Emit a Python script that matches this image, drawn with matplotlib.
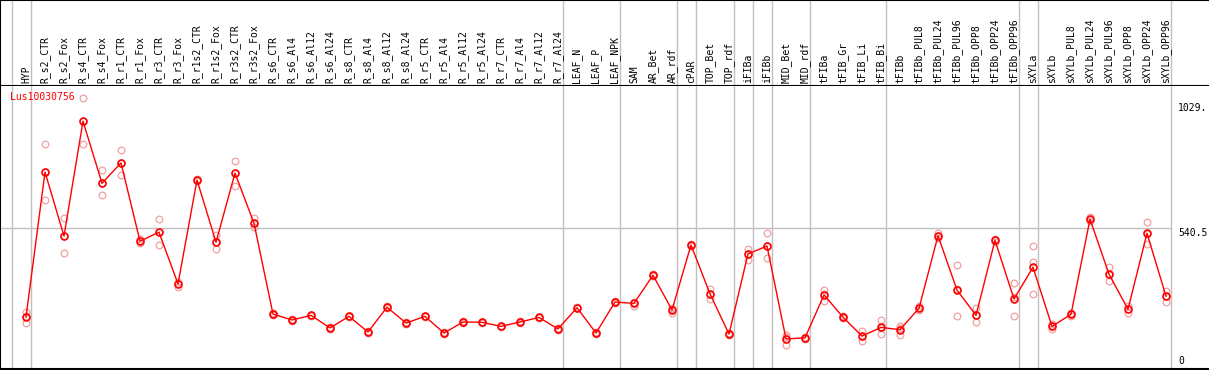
import numpy as np
import matplotlib
matplotlib.use('Agg')
import matplotlib.pyplot as plt

# column labels
labels = ['HYP', 'R_s2_CTR', 'R_s2_Fox', 'R_s4_CTR', 'R_s4_Fox', 'R_r1_CTR', 'R_r1_Fox',
          'R_r3_CTR', 'R_r3_Fox', 'R_r1s2_CTR', 'R_r1s2_Fox', 'R_r3s2_CTR', 'R_r3s2_Fox',
          'R_s6_CTR', 'R_s6_Al4', 'R_s6_Al12', 'R_s6_Al24', 'R_s8_CTR', 'R_s8_Al4',
          'R_s8_Al12', 'R_s8_Al24', 'R_r5_CTR', 'R_r5_Al4', 'R_r5_Al12', 'R_r5_Al24',
          'R_r7_CTR', 'R_r7_Al4', 'R_r7_Al12', 'R_r7_Al24', 'LEAF_N', 'LEAF_P', 'LEAF_NPK',
          'SAM', 'AR_Bet', 'AR_rdf', 'cPAR', 'TOP_Bet', 'TOP_rdf', 'iFIBa', 'iFIBb',
          'MID_Bet', 'MID_rdf', 'tFIBa', 'tFIB_Gr', 'tFIB_Li', 'tFIB_Bi', 'tFIBb',
          'tFIBb_PUL8', 'tFIBb_PUL24', 'tFIBb_PUL96', 'tFIBb_OPP8', 'tFIBb_OPP24',
          'tFIBb_OPP96', 'sXYLa', 'sXYLb', 'sXYLb_PUL8', 'sXYLb_PUL24', 'sXYLb_PUL96',
          'sXYLb_OPP8', 'sXYLb_OPP24', 'sXYLb_OPP96']

# mean expression per column
means = [192, 759, 509, 958, 715, 795, 489, 524, 322, 728, 485, 755, 559,
         204, 181, 199, 150, 195, 134, 231, 169, 195, 130, 173, 172, 156, 173, 191, 146,
         229, 130, 251, 246, 356, 220, 474, 283, 126, 439, 470, 107, 111, 279, 192, 118,
         152, 143, 227, 510, 298, 199, 492, 263, 387, 156, 203, 575, 360, 223, 520, 274]

# replicates
rep_a = [212, 869, 580, 1047, 767, 844, 496, 575, 331, 731, 513, 802, 578,
         207, 184, 202, 153, 198, 137, 234, 172, 198, 133, 176, 175, 159, 176, 194, 149,
         232, 133, 254, 253, 359, 227, 477, 301, 129, 460, 520, 122, 114, 298, 195, 137,
         181, 158, 234, 520, 395, 227, 499, 324, 470, 165, 210, 582, 387, 236, 563, 294]
rep_b = [197, 759, 509, 958, 715, 795, 489, 524, 322, 728, 485, 755, 559,
         204, 181, 199, 150, 195, 134, 231, 169, 195, 130, 173, 172, 156, 173, 191, 146,
         229, 130, 251, 246, 356, 222, 474, 283, 126, 440, 470, 115, 111, 281, 192, 120,
         148, 149, 227, 510, 304, 199, 492, 270, 408, 156, 203, 575, 358, 224, 518, 275]
rep_c = [169, 650, 443, 869, 668, 746, 482, 473, 309, 724, 460, 703, 543,
         201, 178, 196, 147, 192, 131, 228, 166, 192, 127, 170, 169, 153, 170, 188, 143,
         226, 127, 248, 236, 353, 210, 471, 262, 123, 415, 422, 84, 108, 256, 189, 98,
         127, 122, 220, 501, 195, 172, 486, 195, 283, 147, 197, 568, 335, 210, 479, 253]

# last column of each group (0 = before first column)
group_ends = [0, 1, 29, 32, 35, 36, 38, 39, 40, 42, 46, 53, 54, 61]

W, H = 1209, 370
fig = plt.figure(figsize=(W / 100, H / 100), dpi=100)
head_h = 85.7
ax_h = fig.add_axes([0, (H - head_h) / H, 1, head_h / H])
ax = fig.add_axes([0, 1 / H, 1, (369 - head_h) / H], sharex=ax_h)

x = np.arange(1, len(labels) + 1)
xlim = (-7 / 19, (W - 7) / 19)
grey = '#c0c0c0'
mono = 'DejaVu Sans Mono'

for a in (ax, ax_h):
    for g in group_ends:
        a.axvline(g + 0.25, color=grey, lw=1, zorder=0)
    a.set_xticks([])
    a.set_yticks([])
    a.spines['right'].set_visible(False)
    for s in ('left', 'top', 'bottom'):
        a.spines[s].set_color('black')
        a.spines[s].set_linewidth(1.5)
ax.spines['top'].set_visible(False)
ax_h.set_ylim(0, 1)
ax.set_xlim(*xlim)
ax.set_ylim(-10.6, 1096.6)

for i, lab in enumerate(labels):
    ax_h.text(x[i], 0.03, lab, rotation=90, ha='center', va='bottom',
              family=mono, fontsize=7, color='black')

ax.axhline(540.5, xmin=0, xmax=1170.7 / W, color=grey, lw=1, zorder=0)

# replicates
for r in (rep_a, rep_b, rep_c):
    ax.plot(x, r, 'o', ms=4.8, mfc='none', mec='#f0a0a0', mew=0.9, zorder=2)

ax.plot(x, means, '-', color='red', lw=1, zorder=3)
ax.plot(x, means, 'o', ms=5, mfc='none', mec='red', mew=1.2, zorder=4)

ax.text(10 / W, 1 - (97 - head_h) / (369 - head_h), 'Lus10030756', transform=ax.transAxes,
        ha='left', va='center', family=mono, fontsize=7, color='red')

xr = xlim[0] + (1178 / W) * (xlim[1] - xlim[0])
ax.text(xr, 1029, '1029.', ha='left', va='top', family=mono, fontsize=7)
ax.text(xr, 540.5, '540.5', ha='left', va='top', family=mono, fontsize=7)
ax.text(xr, 0, '0', ha='left', va='bottom', family=mono, fontsize=7)

fig.savefig('out.png', dpi=100)
